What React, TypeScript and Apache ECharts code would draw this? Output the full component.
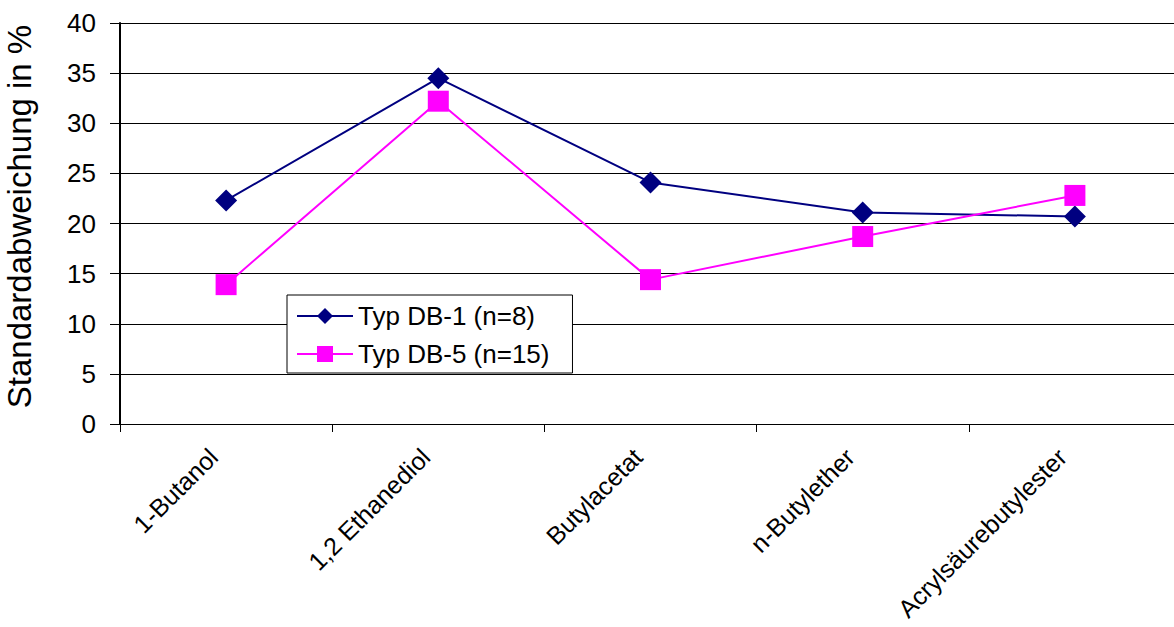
import React, { useEffect, useRef } from "react";
import * as echarts from "echarts";

const categories = ["1-Butanol", "1,2 Ethanediol", "Butylacetat", "n-Butylether", "Acrylsäurebutylester"];
const seriesNames = ["Typ DB-1 (n=8)", "Typ DB-5 (n=15)"];
const db1Values = [22.3, 34.5, 24.1, 21.1, 20.7];
const db5Values = [13.9, 32.2, 14.4, 18.7, 22.8];
const yAxisTitle = "Standardabweichung in %";

const FONT = "'Liberation Sans', Arial, sans-serif";

export default function App() {
  const ref = useRef<HTMLDivElement>(null);
  useEffect(() => {
    if (!ref.current) return;
    const chart = echarts.init(ref.current, undefined, { renderer: "svg" });
    chart.setOption({
      animation: false,
      backgroundColor: "#fff",
      textStyle: { fontFamily: FONT },
      grid: { left: 120, top: 23, bottom: 203, right: -7, containLabel: false, outerBoundsMode: "none" },
      legend: {
        orient: "vertical",
        left: 287,
        top: 295,
        padding: [8, 23, 6, 9],
        itemGap: 12,
        itemWidth: 56,
        itemHeight: 20,
        backgroundColor: "#fff",
        borderColor: "#000",
        borderWidth: 1,
        textStyle: { fontSize: 26, color: "#000", fontFamily: FONT },
        data: seriesNames,
      },
      xAxis: {
        type: "category",
        data: categories,
        boundaryGap: true,
        axisLine: { lineStyle: { color: "#000", width: 1 } },
        axisTick: { show: true, alignWithLabel: false, length: 8, lineStyle: { color: "#000" } },
        axisLabel: {
          rotate: 45,
          fontSize: 25,
          color: "#000",
          margin: 16,
          padding: [0, 18, 0, 0],
          fontFamily: FONT,
          interval: 0,
        },
        splitLine: { show: false },
      },
      yAxis: {
        type: "value",
        min: 0,
        max: 40,
        interval: 5,
        name: yAxisTitle,
        nameLocation: "middle",
        nameGap: 84,
        nameTextStyle: { fontSize: 33, color: "#000", fontFamily: FONT, padding: [0, 0, 0, 14] },
        axisLine: { show: true, lineStyle: { color: "#000", width: 2 } },
        axisTick: { show: true, inside: false, length: 10, lineStyle: { color: "#000" } },
        axisLabel: { fontSize: 26, color: "#000", margin: 24, fontFamily: FONT },
        splitLine: { show: true, lineStyle: { color: "#000", width: 1 } },
      },
      series: [
        {
          name: seriesNames[0],
          type: "line",
          data: db1Values,
          symbol: "diamond",
          symbolSize: 22,
          color: "#000080",
          lineStyle: { color: "#000080", width: 2 },
          itemStyle: { color: "#000080" },
        },
        {
          name: seriesNames[1],
          type: "line",
          data: db5Values,
          symbol: "rect",
          symbolSize: 21,
          color: "#FF00FF",
          lineStyle: { color: "#FF00FF", width: 2 },
          itemStyle: { color: "#FF00FF" },
        },
      ],
    });
    return () => chart.dispose();
  }, []);
  return <div ref={ref} style={{ width: 1174, height: 627, position: "absolute", left: 0, top: 0 }} />;
}
